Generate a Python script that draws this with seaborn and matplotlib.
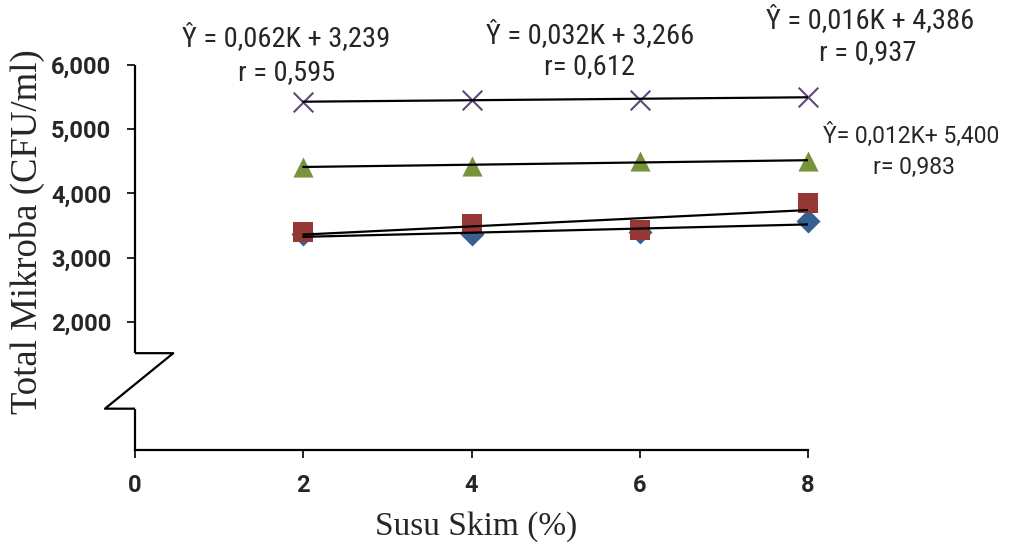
import matplotlib
matplotlib.use("Agg")
import matplotlib.pyplot as plt
from matplotlib import font_manager
import seaborn as sns
import pandas as pd

# data
susu_skim = [2, 4, 6, 8]
seri_diamond = [3360, 3360, 3390, 3565]
seri_square = [3398, 3517, 3424, 3854]
seri_triangle = [4413, 4433, 4500, 4508]
seri_cross = [5430, 5455, 5460, 5505]

x_ticks = [0, 2, 4, 6, 8]
y_ticks = [2000, 3000, 4000, 5000, 6000]
y_ticklabels = ["2,000", "3,000", "4,000", "5,000", "6,000"]

equations = [
    ("Ŷ = 0,062K + 3,239", "r = 0,595"),
    ("Ŷ = 0,032K + 3,266", "r= 0,612"),
    ("Ŷ = 0,016K + 4,386", "r = 0,937"),
    ("Ŷ= 0,012K+ 5,400", "r= 0,983"),
]

installed = {f.name for f in font_manager.fontManager.ttflist}
narrow = "Roboto"
for cand in ["Roboto Condensed", "Liberation Sans Narrow"]:
    if cand in installed:
        narrow = cand
        break

sns.set_style("white")
plt.rcParams["font.family"] = ["Roboto", "DejaVu Sans"]

series = [
    ("diamond", seri_diamond, "D", "#376092", 150),
    ("square", seri_square, "s", "#953735", 200),
    ("triangle", seri_triangle, "^", "#77933C", 210),
    ("cross", seri_cross, "x", "#5F4A7B", 200),
]

fig = plt.figure(figsize=(10.15, 5.45), dpi=100)
ax = fig.add_axes([135 / 1015, 1 - 450 / 545, (808 - 135) / 1015, (450 - 65) / 545])

# markers first, trend lines on top
for name, vals, mk, col, sz in series:
    df = pd.DataFrame({"x": susu_skim, "y": vals})
    sns.scatterplot(data=df, x="x", y="y", marker=mk, color=col, s=sz,
                    linewidth=1.5 if mk == "x" else 0, ax=ax, zorder=3, clip_on=False)
for name, vals, mk, col, sz in series:
    df = pd.DataFrame({"x": susu_skim, "y": vals})
    sns.regplot(data=df, x="x", y="y", scatter=False, ci=None, ax=ax,
                line_kws={"color": "black", "lw": 1.6, "zorder": 4})

ax.set_xlim(0, 8)
ax.set_ylim(0, 6000)
ax.set_xticks(x_ticks)
ax.set_yticks(y_ticks)
ax.set_yticklabels(y_ticklabels)
ax.tick_params(axis="both", direction="out", length=6, width=1.2, labelsize=17,
               pad=11, color="black", left=True, bottom=True)
for lab in ax.get_xticklabels() + ax.get_yticklabels():
    lab.set_fontweight("bold")

for s in ["top", "right", "left"]:
    ax.spines[s].set_visible(False)
ax.spines["bottom"].set_linewidth(1.6)
ax.spines["bottom"].set_color("black")

# broken y axis
brk = dict(color="black", lw=1.6, clip_on=False, zorder=5, solid_capstyle="butt")
ax.plot([0, 0], [6000, 1509], **brk)
ax.plot([0, 0.455, -0.357, 0], [1509, 1509, 644, 644], **brk)
ax.plot([0, 0], [644, 0], **brk)

ax.set_xlabel("")
ax.set_ylabel("")
fig.text(476 / 1015, 1 - 527 / 545, "Susu Skim (%)", family="Liberation Serif",
         fontsize=24, ha="center", va="center")
fig.text(27 / 1015, 1 - 232 / 545, "Total Mikroba (CFU/ml)", family="Liberation Serif",
         fontsize=26.5, ha="center", va="center", rotation=90)

# regression equations
pos = [(286, 38, 287, 73), (590, 35, 590, 67), (870, 20, 868, 53), (911, 135, 914, 167)]
for i, ((eq, r), (x1, y1, x2, y2)) in enumerate(zip(equations, pos)):
    fam = [narrow, "DejaVu Sans"] if i < 3 else ["Roboto", "DejaVu Sans"]
    fs = 20.5 if i < 3 else 16.5
    fig.text(x1 / 1015, 1 - y1 / 545, eq, ha="center", va="center", family=fam, fontsize=fs)
    fig.text(x2 / 1015, 1 - y2 / 545, r, ha="center", va="center", family=fam, fontsize=fs)

fig.savefig("out.png", dpi=100)
